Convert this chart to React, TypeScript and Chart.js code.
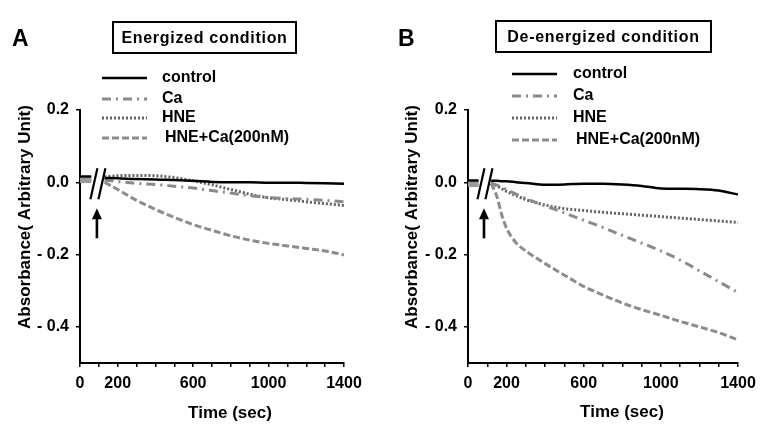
import React, { useEffect, useRef } from 'react';
import { Chart, registerables } from 'chart.js';

Chart.register(...registerables);

const FONT = 'Arial, "Liberation Sans", Helvetica, sans-serif';

// ---- Series definitions ----
const seriesNames = ['control', 'Ca', 'HNE', 'HNE+Ca(200nM)'];
const seriesColors = ['#000000', '#8a8a8a', '#626262', '#8c8c8c'];
const preBreakColors = ['#000000', '#9a9a9a', '#9a9a9a', '#9a9a9a'];
const seriesDash = [[], [9, 5, 2, 5], [2, 2], [7, 3]];
const seriesWidths = [2.5, 3, 3, 3];

// ---- Panel A: Energized condition ----
const timesA = [0, 30, 60, 95, 130, 200, 300, 400, 500, 600, 700, 800, 900, 1000, 1100, 1200, 1300, 1400];
const controlA = [0.016, 0.016, 0.016, null, 0.012, 0.011, 0.009, 0.008, 0.006, 0.004, 0.001, 0.0, 0.0, -0.001, -0.001, -0.002, -0.003, -0.004];
const caA = [0.006, 0.006, 0.006, null, 0.006, 0.002, -0.003, -0.006, -0.011, -0.016, -0.023, -0.03, -0.037, -0.042, -0.045, -0.047, -0.05, -0.054];
const hneA = [0.009, 0.009, 0.009, null, 0.015, 0.018, 0.019, 0.018, 0.013, 0.004, -0.007, -0.02, -0.033, -0.043, -0.048, -0.054, -0.059, -0.064];
const hneCaA = [0.002, 0.002, 0.002, null, 0.0, -0.02, -0.05, -0.075, -0.097, -0.117, -0.133, -0.148, -0.16, -0.169, -0.176, -0.183, -0.19, -0.201];

// ---- Panel B: De-energized condition ----
const timesB = [0, 30, 55, 88, 120, 150, 175, 200, 250, 300, 400, 500, 600, 700, 800, 900, 1000, 1100, 1200, 1300, 1400];
const controlB = [0.005, 0.005, 0.005, null, 0.004, 0.004, 0.003, 0.003, 0.0, -0.002, -0.007, -0.006, -0.004, -0.004, -0.006, -0.01, -0.017, -0.018, -0.019, -0.023, -0.034];
const caB = [-0.004, -0.004, -0.004, null, -0.002, -0.008, -0.014, -0.02, -0.033, -0.045, -0.065, -0.085, -0.105, -0.125, -0.147, -0.168, -0.19, -0.215, -0.245, -0.275, -0.305];
const hneB = [0.002, 0.002, 0.002, null, -0.002, -0.01, -0.018, -0.025, -0.037, -0.048, -0.063, -0.073, -0.078, -0.083, -0.087, -0.091, -0.095, -0.099, -0.103, -0.107, -0.111];
const hneCaB = [-0.009, -0.009, -0.009, null, -0.003, -0.04, -0.09, -0.127, -0.168, -0.19, -0.225, -0.257, -0.288, -0.312, -0.334, -0.352, -0.368, -0.385, -0.4, -0.416, -0.436];

// ---- Axes ----
const xTickValues = [0, 100, 200, 300, 400, 500, 600, 700, 800, 900, 1000, 1100, 1200, 1300, 1400];
const xTickLabels = [0, 200, 600, 1000, 1400];
const yTickValues = [0.2, 0.0, -0.2, -0.4];
const xMin = 0;
const xMax = 1400;
const yMin = -0.5;
const yMax = 0.2;
const xAxisTitle = 'Time (sec)';
const yAxisTitle = 'Absorbance( Arbitrary Unit)';

// ---- Annotations ----
const panelLetters = ['A', 'B'];
const panelTitles = ['Energized condition', 'De-energized condition'];
const breakTimes = [95, 88];
const arrowTail = -0.155;
const arrowTip = -0.072;

type Layout = {
  padLeft: number; yWidth: number; padRight: number; padTop: number; xHeight: number;
  letter: { x: number; y: number };
  box: { x: number; y: number; w: number; h: number };
  legend: { x0: number; x1: number; tx: number; rows: number[]; indentLast: number };
  yTitle: { x: number; y: number };
  xTitle: { x: number; y: number };
};

const layouts: Layout[] = [
  {
    padLeft: 0, yWidth: 80, padRight: 38, padTop: 110, xHeight: 72,
    letter: { x: 12, y: 40 },
    box: { x: 113, y: 22, w: 183, h: 31 },
    legend: { x0: 102, x1: 147, tx: 162, rows: [78, 99, 118, 138], indentLast: 3 },
    yTitle: { x: 25, y: 217 },
    xTitle: { x: 230, y: 413 },
  },
  {
    padLeft: 6, yWidth: 80, padRight: 26, padTop: 110, xHeight: 72,
    letter: { x: 16, y: 40 },
    box: { x: 114, y: 21, w: 215, h: 31 },
    legend: { x0: 130, x1: 175, tx: 191, rows: [74, 96, 118, 140], indentLast: 3 },
    yTitle: { x: 30, y: 217 },
    xTitle: { x: 240, y: 412 },
  },
];

const panelData = [
  { times: timesA, series: [controlA, caA, hneA, hneCaA] },
  { times: timesB, series: [controlB, caB, hneB, hneCaB] },
];

function fmtY(v: number): string {
  if (Math.abs(v) < 1e-9) return '0.0';
  return v < 0 ? '- ' + Math.abs(v).toFixed(1) : v.toFixed(1);
}

function Panel({ idx }: { idx: number }) {
  const ref = useRef<HTMLCanvasElement>(null);
  useEffect(() => {
    const L = layouts[idx];
    const pd = panelData[idx];
    const bt = breakTimes[idx];
    const datasets = pd.series.map((vals, si) => ({
      label: seriesNames[si],
      data: pd.times.map((t, i) => ({ x: t, y: vals[i] })),
      borderColor: seriesColors[si],
      borderDash: seriesDash[si],
      borderWidth: seriesWidths[si],
      borderCapStyle: 'butt' as const,
      pointRadius: 0,
      fill: false,
      spanGaps: false,
      cubicInterpolationMode: 'monotone' as const,
      segment: {
        borderDash: (c: any) => (c.p1.parsed.x < bt ? [] : undefined),
        borderColor: (c: any) => (c.p1.parsed.x < bt ? preBreakColors[si] : undefined),
      },
    }));

    const deco = {
      id: 'deco',
      afterDraw(chart: any) {
        const ctx = chart.ctx as CanvasRenderingContext2D;
        const xs = chart.scales.x;
        const ys = chart.scales.y;
        ctx.save();
        ctx.fillStyle = '#000';
        ctx.strokeStyle = '#000';
        // panel letter
        ctx.font = `bold 23px ${FONT}`;
        ctx.textAlign = 'left';
        ctx.textBaseline = 'middle';
        ctx.fillText(panelLetters[idx], L.letter.x, L.letter.y);
        // title box
        ctx.lineWidth = 2;
        ctx.setLineDash([]);
        ctx.strokeRect(L.box.x, L.box.y, L.box.w, L.box.h);
        ctx.font = `bold 16px ${FONT}`;
        ctx.textAlign = 'center';
        (ctx as any).letterSpacing = '0.7px';
        ctx.fillText(panelTitles[idx], L.box.x + L.box.w / 2, L.box.y + L.box.h / 2 + 1);
        (ctx as any).letterSpacing = '0px';
        // legend
        chart.data.datasets.forEach((ds: any, i: number) => {
          const y = L.legend.rows[i];
          ctx.save();
          ctx.strokeStyle = ds.borderColor;
          ctx.lineWidth = ds.borderWidth;
          ctx.setLineDash(ds.borderDash || []);
          ctx.lineCap = 'butt';
          ctx.beginPath();
          ctx.moveTo(L.legend.x0, y);
          ctx.lineTo(L.legend.x1, y);
          ctx.stroke();
          ctx.restore();
          ctx.font = `bold 16px ${FONT}`;
          ctx.textAlign = 'left';
          ctx.textBaseline = 'middle';
          ctx.fillStyle = '#000';
          const tx = L.legend.tx + (i === 3 ? L.legend.indentLast : 0);
          ctx.fillText(ds.label, tx, y);
        });
        // axis titles
        ctx.font = `bold 17px ${FONT}`;
        ctx.textAlign = 'center';
        ctx.textBaseline = 'middle';
        ctx.fillText(xAxisTitle, L.xTitle.x, L.xTitle.y);
        ctx.save();
        ctx.translate(L.yTitle.x, L.yTitle.y);
        ctx.rotate(-Math.PI / 2);
        ctx.fillText(yAxisTitle, 0, 0);
        ctx.restore();
        // axis break marks
        const cx = xs.getPixelForValue(bt);
        const cy = ys.getPixelForValue(0) + 1;
        ctx.lineWidth = 2.2;
        ctx.setLineDash([]);
        [-4, 4].forEach((dx) => {
          ctx.beginPath();
          ctx.moveTo(cx + dx - 3.5, cy + 16);
          ctx.lineTo(cx + dx + 3.5, cy - 15);
          ctx.stroke();
        });
        // arrow
        const ax = cx - 1;
        const yTail = ys.getPixelForValue(arrowTail);
        const yTip = ys.getPixelForValue(arrowTip);
        ctx.lineWidth = 2.6;
        ctx.beginPath();
        ctx.moveTo(ax, yTail);
        ctx.lineTo(ax, yTip + 8);
        ctx.stroke();
        ctx.beginPath();
        ctx.moveTo(ax, yTip);
        ctx.lineTo(ax - 5, yTip + 11);
        ctx.lineTo(ax + 5, yTip + 11);
        ctx.closePath();
        ctx.fill();
        ctx.restore();
      },
    };

    const tickFont = { family: FONT, size: 16, weight: 'bold' as const };
    const chart = new Chart(ref.current!, {
      type: 'line',
      data: { datasets },
      plugins: [deco],
      options: {
        responsive: false,
        devicePixelRatio: 1,
        animation: false,
        events: [],
        layout: { padding: { left: L.padLeft, right: L.padRight, top: L.padTop, bottom: 0 } },
        plugins: { legend: { display: false }, tooltip: { enabled: false } },
        scales: {
          x: {
            type: 'linear',
            min: xMin,
            max: xMax,
            afterBuildTicks: (s: any) => { s.ticks = xTickValues.map((v) => ({ value: v })); },
            afterFit: (s: any) => { s.height = L.xHeight; },
            ticks: {
              autoSkip: false,
              maxRotation: 0,
              padding: 7,
              color: '#000',
              font: tickFont,
              callback: (v: any) => (xTickLabels.includes(Number(v)) ? String(v) : ''),
            },
            grid: { display: true, drawOnChartArea: false, drawTicks: true, tickLength: 4, color: '#000', lineWidth: 1.5 },
            border: { display: true, color: '#000', width: 2 },
          },
          y: {
            type: 'linear',
            min: yMin,
            max: yMax,
            afterBuildTicks: (s: any) => { s.ticks = yTickValues.map((v) => ({ value: v })); },
            afterFit: (s: any) => { s.width = L.yWidth; },
            ticks: {
              autoSkip: false,
              padding: 7,
              color: '#000',
              font: tickFont,
              callback: (v: any) => fmtY(Number(v)),
            },
            grid: { display: true, drawOnChartArea: false, drawTicks: true, tickLength: 4, color: '#000', lineWidth: 1.5 },
            border: { display: true, color: '#000', width: 2 },
          },
        },
      },
    });
    return () => chart.destroy();
  }, [idx]);
  return <canvas ref={ref} width={382} height={435} style={{ display: 'block', width: 382, height: 435 }} />;
}

export default function App() {
  return (
    <div style={{ position: 'fixed', left: 0, top: 0, width: 764, height: 435, background: '#fff', display: 'flex' }}>
      <Panel idx={0} />
      <Panel idx={1} />
    </div>
  );
}
